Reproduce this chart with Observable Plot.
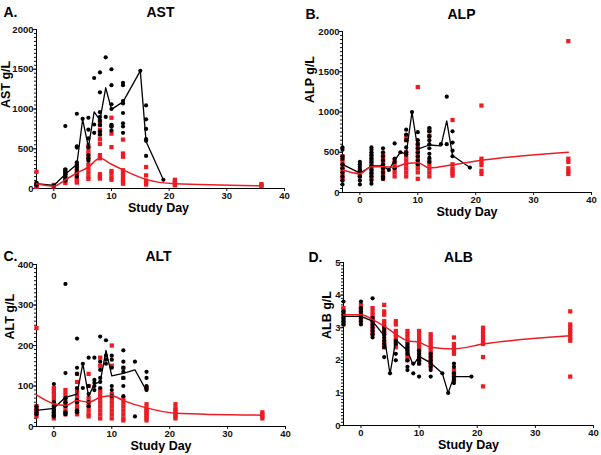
<!DOCTYPE html>
<html>
<head>
<meta charset="utf-8">
<script src="https://cdn.jsdelivr.net/npm/d3@7"></script>
<script src="https://cdn.jsdelivr.net/npm/@observablehq/plot@0.6"></script>
<style>
  html, body { margin: 0; padding: 0; background: #fff; }
  #wrap { position: relative; width: 601px; height: 455px; overflow: hidden; background: #fff; }
  #wrap > svg { position: absolute; }
</style>
</head>
<body>
<div id="wrap"></div>
<script>
// ---------- shared ----------
const redDays = [-3, 0, 2, 4, 6, 8, 10, 12, 16, 21, 36];
const xTicks = [0, 10, 20, 30, 40];

// ---------- AST ----------
const astBlackDays = [-3, 0, 2, 4, 5, 6, 7, 8, 9, 10, 12, 15, 16, 19];
const astBlackVals = [
  [70, 55, 40], [38], [785, 240, 220, 200, 180, 150, 120, 100],
  [940, 530, 515, 330, 300, 270, 240, 200, 150], [877],
  [890, 740, 630, 520, 420, 380, 350], [1390, 805, 700],
  [1460, 1210, 960, 900, 850, 800, 720, 680], [1650, 900],
  [1500, 1300, 1060, 1000, 800, 780, 730],
  [1330, 1300, 1100, 1070, 950, 820, 780, 700], [1480],
  [1045, 870, 750, 620, 600, 410], [110]
];
const astMedVals = [60, 38, 180, 305, 870, 520, 965, 860, 1267, 995, 1090, 1480, 590, 110];
const astRedVals = [
  [210, 60, 45, 30, 20], [45, 35, 25], [230, 190, 160, 130, 110, 90, 70],
  [290, 250, 215, 180, 150, 120, 95, 75],
  [540, 480, 430, 380, 300, 250, 200, 150, 120],
  [850, 800, 740, 680, 620, 560, 420, 380, 180, 150, 125],
  [890, 790, 690, 520, 220, 190, 140, 110],
  [615, 440, 400, 230, 200, 170, 140, 110, 80, 60],
  [270, 165, 100, 75, 50], [110, 90, 70, 55, 40], [55, 40, 30]
];
const astMeanVals = [60, 30, 110, 195, 270, 380, 305, 235, 115, 60, 35];
const astTicks = [0, 500, 1000, 1500, 2000];

// ---------- ALP ----------
const alpBlackDays = [-3, 0, 2, 4, 5, 6, 7, 8, 9, 10, 12, 14, 15, 16, 19];
const alpBlackVals = [
  [560, 530, 450, 420, 350, 300, 250, 200, 150, 100],
  [380, 350, 320, 280, 250, 200, 150, 100],
  [560, 530, 500, 460, 420, 380, 330, 280, 240, 200, 150, 110],
  [550, 500, 450, 400, 350, 300, 250, 200, 170], [280],
  [610, 420, 380, 300], [500], [780, 720, 650, 560, 500, 470], [1000],
  [750, 650, 600, 550, 500, 450, 400, 350],
  [800, 760, 700, 650, 600, 550, 480, 430, 380], [600], [1190, 600],
  [760, 620, 520, 450], [310]
];
const alpMedVals = [350, 240, 330, 330, 280, 400, 500, 480, 1000, 540, 590, 580, 890, 460, 310];
const alpRedVals = [
  [450, 400, 350, 300, 250, 200, 160], [280, 250, 220, 200],
  [470, 420, 380, 340, 300, 260, 220, 180],
  [480, 440, 400, 360, 320, 280, 240, 200, 170],
  [400, 350, 300, 250, 200],
  [700, 650, 500, 450, 400, 350, 300, 250, 200],
  [1310, 600, 550, 500, 450, 400, 350, 300, 250, 170],
  [790, 760, 700, 400, 350, 300, 250, 200],
  [900, 350, 300, 270, 240, 210], [1080, 420, 380, 340, 270, 230],
  [1880, 420, 380, 300, 260, 230]
];
const alpMeanVals = [280, 235, 320, 320, 315, 360, 370, 305, 345, 400, 500];
const alpTicks = [0, 500, 1000, 1500, 2000];

// ---------- ALT ----------
const altBlackDays = [-3, 0, 2, 4, 5, 6, 7, 8, 9, 10, 12, 14, 16];
const altBlackVals = [
  [50, 42, 35, 30], [105, 60, 50, 42, 35, 28, 25],
  [352, 132, 70, 60, 50, 35, 30], [217, 145, 130, 95, 65, 60, 40, 35],
  [155, 95], [170, 100, 80, 60, 50], [170, 115, 108, 100, 90],
  [222, 160, 140, 120, 110, 95], [213, 175, 165, 155],
  [175, 165, 145, 100, 90, 75], [188, 160, 145, 135, 120, 100, 75],
  [160, 25], [135, 120, 100, 95, 90]
];
const altMedVals = [40, 45, 72, 80, 155, 75, 105, 110, 188, 125, 131, 140, 88];
const altRedVals = [
  [243, 50, 45, 40, 35, 30, 25], [95, 88, 80, 70, 60, 50, 40, 35, 30, 25, 20],
  [90, 80, 70, 60, 55, 50, 40, 35, 30], [130, 110, 90, 80, 70, 60, 50, 40, 35, 30],
  [130, 100, 70, 60, 50, 40, 30, 25], [170, 150, 90, 80, 70, 60, 50, 40, 30, 20],
  [200, 150, 80, 70, 60, 50, 40, 30, 20], [145, 120, 70, 60, 50, 40, 30, 20, 15],
  [95, 55, 45, 40, 35, 30, 25, 20, 15], [55, 45, 40, 35, 30, 25, 20], [35, 30, 25, 20]
];
const altMeanVals = [78, 56, 52, 64, 60, 72, 76, 64, 46, 33, 28];
const altTicks = [0, 100, 200, 300, 400];

// ---------- ALB ----------
const albBlackDays = [-3, 0, 2, 4, 5, 6, 8, 9, 10, 12, 14, 15, 16, 19];
const albBlackVals = [
  [3.8, 3.5, 3.4, 3.3, 3.2, 3.1], [3.8, 3.6, 3.5, 3.4, 3.3, 3.2, 3.1],
  [3.9, 3.3, 3.2, 3.1, 3.0, 2.9, 2.8, 2.7], [3.0, 2.9, 2.8, 2.7, 2.6, 2.5, 2.4, 2.1],
  [1.6], [2.6, 2.5, 2.2, 2.0], [2.5, 2.4, 2.3, 2.2, 2.0, 1.8, 1.7], [1.9, 1.6],
  [2.3, 2.2, 2.1, 2.0, 1.9, 1.5], [2.2, 2.1, 2.0, 1.9, 1.8, 1.7, 1.5], [1.6], [1.0],
  [1.9, 1.8, 1.6, 1.5, 1.4, 1.3], [1.5]
];
const albMedVals = [3.35, 3.35, 3.2, 2.75, 1.58, 2.62, 2.3, 1.85, 2.12, 1.92, 1.6, 1.0, 1.5, 1.5];
const albRedVals = [
  [3.6, 3.5, 3.4, 3.3, 3.2, 3.1], [3.7, 3.6, 3.5, 3.4, 3.3, 3.2],
  [3.6, 3.5, 3.4, 3.3, 3.2, 3.1, 3.0, 2.9, 2.8],
  [3.7, 3.5, 3.4, 3.2, 3.1, 3.0, 2.9, 2.8, 2.6, 2.5, 2.4],
  [3.2, 3.1, 2.9, 2.8, 2.7, 2.6, 2.5, 2.4],
  [2.9, 2.8, 2.7, 2.6, 2.5, 2.4, 2.3, 2.2, 2.1, 2.0],
  [2.9, 2.8, 2.7, 2.6, 2.5, 2.4, 2.3, 2.2, 2.1, 2.0, 1.9],
  [2.8, 2.7, 2.6, 2.5, 2.4, 2.3, 2.2, 2.1, 2.0, 1.9, 1.8],
  [2.7, 2.5, 2.4, 2.3, 2.2, 1.7, 1.6, 1.5, 1.4],
  [3.0, 2.9, 2.8, 2.7, 2.6, 2.5, 2.1, 1.2],
  [3.5, 3.1, 3.0, 2.9, 2.8, 2.7, 2.6, 1.5]
];
const albMeanVals = [3.4, 3.4, 3.25, 3.05, 2.8, 2.6, 2.55, 2.4, 2.35, 2.5, 2.75];
const albTicks = [0, 1, 2, 3, 4, 5];

// ---------- helpers ----------
const RED = "#ea1c24";
const flat = (days, vals) => days.flatMap((d, i) => vals[i].map(v => ({day: d, value: v})));
const pairs = (days, vals) => days.map((d, i) => ({day: d, value: vals[i]}));

function panel(cfg) {
  const ymax = cfg.ticks[cfg.ticks.length - 1];
  const minor = d3.range(0, ymax + cfg.minorStep / 2, cfg.minorStep);
  const svg = Plot.plot({
    width: cfg.width, height: cfg.height,
    marginLeft: cfg.ml, marginRight: cfg.mr, marginTop: cfg.mt, marginBottom: cfg.mb,
    style: {fontFamily: "'Liberation Sans', Arial, sans-serif", fontWeight: "bold", background: "#fff", color: "#111", overflow: "visible"},
    x: {domain: [-3, 40]},
    y: {domain: [0, ymax]},
    marks: [
      Plot.axisY({ticks: minor, tickSize: 2, text: null, label: null}),
      Plot.axisY({ticks: cfg.ticks, tickSize: 3, tickPadding: 0, fontSize: 9.5, tickFormat: d => String(d), label: null}),
      Plot.axisX({ticks: xTicks, tickSize: 3, tickPadding: 1, fontSize: 9.5, tickFormat: d => String(d), label: null}),
      Plot.ruleY([0], {stroke: "#000", strokeWidth: 1}),
      Plot.ruleX([-3], {stroke: "#000", strokeWidth: 1}),
      Plot.dot(flat(redDays, cfg.redVals), {x: "day", y: "value", symbol: "square", r: 2.4, fill: RED, stroke: null}),
      Plot.dot(flat(cfg.blackDays, cfg.blackVals), {x: "day", y: "value", r: 2.1, fill: "#000", stroke: null}),
      Plot.line(pairs(cfg.blackDays, cfg.medVals), {x: "day", y: "value", stroke: "#000", strokeWidth: 1.3}),
      Plot.line(pairs(redDays, cfg.meanVals), {x: "day", y: "value", stroke: RED, strokeWidth: 1.5, curve: "monotone-x"}),
      Plot.text([cfg.letter], {text: d => d, frameAnchor: "top-left", textAnchor: "start", dx: cfg.letterDx, dy: cfg.titleDy, fontSize: 14, fill: "#000"}),
      Plot.text([cfg.title], {text: d => d, frameAnchor: "top-left", textAnchor: "middle", dx: cfg.titleDx, dy: cfg.titleDy, fontSize: 14, fill: "#000"}),
      Plot.text([cfg.ylabel], {text: d => d, frameAnchor: "left", rotate: -90, dx: cfg.ylDx, dy: cfg.ylDy, fontSize: 12.5, fill: "#000"}),
      Plot.text(["Study Day"], {text: d => d, frameAnchor: "bottom", dx: cfg.xlDx, dy: cfg.xlDy, fontSize: 12.5, fill: "#000"})
    ]
  });
  svg.style.left = cfg.left + "px";
  svg.style.top = cfg.top + "px";
  document.getElementById("wrap").appendChild(svg);
}

panel({left: 0, top: 0, width: 300, height: 220, ml: 36, mr: 16, mt: 29, mb: 32,
  ticks: astTicks, minorStep: 50, letter: "A.", title: "AST", ylabel: "AST g/L",
  letterDx: -33, titleDx: 124, titleDy: -22, ylDx: -31, ylDy: -1, xlDx: -2, xlDy: 23,
  redVals: astRedVals, meanVals: astMeanVals, blackDays: astBlackDays, blackVals: astBlackVals, medVals: astMedVals});

panel({left: 300, top: 0, width: 301, height: 222, ml: 42, mr: 10, mt: 31, mb: 30,
  ticks: alpTicks, minorStep: 50, letter: "B.", title: "ALP", ylabel: "ALP g/L",
  letterDx: -37, titleDx: 119, titleDy: -22, ylDx: -33, ylDy: -9, xlDx: 0, xlDy: 23,
  redVals: alpRedVals, meanVals: alpMeanVals, blackDays: alpBlackDays, blackVals: alpBlackVals, medVals: alpMedVals});

panel({left: 0, top: 220, width: 300, height: 235, ml: 36, mr: 15, mt: 44, mb: 29,
  ticks: altTicks, minorStep: 10, letter: "C.", title: "ALT", ylabel: "ALT g/L",
  letterDx: -33, titleDx: 122, titleDy: -13.5, ylDx: -27, ylDy: -6, xlDx: 0, xlDy: 23,
  redVals: altRedVals, meanVals: altMeanVals, blackDays: altBlackDays, blackVals: altBlackVals, medVals: altMedVals});

panel({left: 300, top: 220, width: 301, height: 235, ml: 43, mr: 8, mt: 42, mb: 30,
  ticks: albTicks, minorStep: 0.1, letter: "D.", title: "ALB", ylabel: "ALB g/L",
  letterDx: -35, titleDx: 115, titleDy: -10.5, ylDx: -17, ylDy: -5, xlDx: 0, xlDy: 23.5,
  redVals: albRedVals, meanVals: albMeanVals, blackDays: albBlackDays, blackVals: albBlackVals, medVals: albMedVals});
</script>
</body>
</html>
